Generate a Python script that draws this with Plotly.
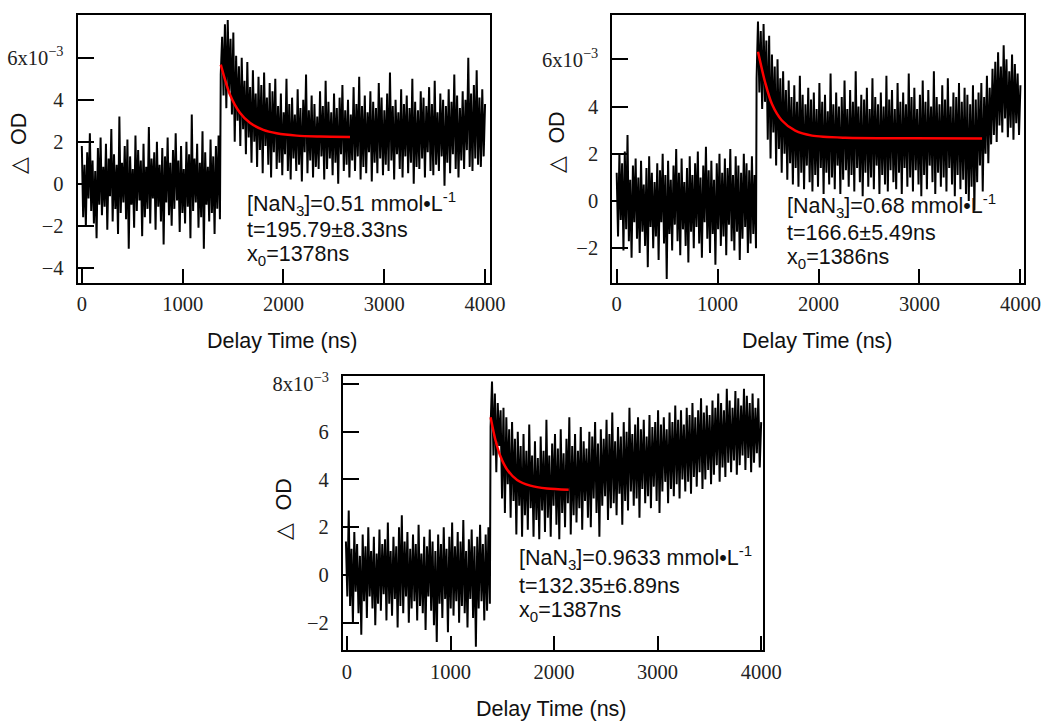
import numpy as np
import plotly.graph_objects as go

# ---------------- data (ΔOD in units of 1e-3) ----------------
# panel 1 : [NaN3] = 0.51 mmol/L
p1_pre_span = (0, 1370)
p1_pre = [1.8, -1.6, 0.9, -2.0, 1.5, -0.7, 2.4, -1.3, 1.1, -1.9,
          0.6, -2.6, 1.7, -1.0, 2.2, -1.5, 0.8, -1.1, 1.9, -2.2,
          1.2, -0.6, 2.6, -1.8, 1.4, -1.2, 0.9, -2.4, 3.2, -1.4,
          1.0, -0.9, 1.8, -1.7, 2.1, -3.1, 1.3, -1.0, 0.7, -2.1,
          2.3, -1.3, 1.6, -0.8, 1.1, -2.5, 1.9, -1.6, 0.8, -1.2,
          2.7, -1.9, 1.2, -0.7, 1.5, -2.2, 2.0, -1.1, 0.9, -1.8,
          1.7, -2.9, 1.3, -0.9, 2.2, -1.5, 1.0, -2.0, 1.6, -1.2,
          2.4, -0.8, 1.1, -2.3, 1.8, -1.4, 0.7, -1.9, 2.0, -1.1,
          1.4, -2.6, 3.3, -1.3, 1.2, -0.9, 1.9, -2.1, 1.0, -1.6,
          2.5, -3.1, 1.5, -1.0, 0.8, -1.8, 2.1, -1.4, 1.3, -2.4,
          1.8, -1.2, 2.3, -1.7]
p1_post_span = (1378, 4000)
p1_post = [5.2, 7.0, 4.2, 7.6, 3.6, 7.8, 4.4, 6.9, 3.3, 7.2, 2.0,
           6.1, 3.0, 5.6, 1.8, 6.0, 2.6, 4.9, 1.4, 5.8, 2.2,
           4.6, 1.0, 5.4, 2.0, 4.3, 0.8, 5.1, 1.6, 4.7, 0.5,
           5.3, 1.8, 4.1, 0.9, 4.8, 0.3, 4.4, 1.5, 5.0, 0.7,
           3.7, 1.0, 4.3, 0.4, 3.4, 1.4, 5.0, 0.6, 3.8, 0.2,
           4.1, 1.2, 3.3, 0.6, 4.5, 0.9, 3.6, 0.1, 4.0, 1.5,
           5.2, 0.5, 3.5, 1.1, 4.2, 0.3, 3.8, 0.8, 3.2, 0.7,
           4.4, 1.3, 3.7, 0.2, 4.9, 0.7, 3.9, 1.2, 3.4, 0.4,
           4.3, 1.0, 3.6, 0.0, 4.1, 1.4, 4.7, 0.6, 3.5, 0.9,
           4.0, 0.3, 3.3, 1.1, 4.6, 0.6, 3.8, 1.3, 5.1, 0.2,
           3.7, 0.8, 4.2, 0.5, 3.4, 1.5, 4.4, 0.1, 3.9, 1.0,
           3.6, 0.5, 4.8, 1.2, 4.1, 0.4, 3.5, 0.9, 4.3, 0.6,
           5.3, 1.1, 3.7, 0.2, 4.0, 1.4, 3.4, 0.7, 4.5, 0.3,
           3.8, 1.3, 4.2, 0.5, 3.6, 1.0, 5.0, 0.0, 3.9, 0.8,
           3.5, 0.7, 4.4, 1.2, 4.1, 0.3, 3.7, 1.5, 4.6, 0.6,
           3.8, 0.4, 4.9, 0.9, 3.4, 0.6, 4.3, 1.3, 4.0, -0.1,
           3.7, 1.0, 4.5, 0.5, 3.9, 1.4, 5.2, 0.7, 4.2, 0.3,
           3.6, 1.1, 4.4, 0.7, 4.0, 1.6, 6.0, 0.8, 4.3, 0.6,
           4.7, 1.2, 5.4, 0.9, 4.1, 0.8, 4.5, 1.3, 3.8]
p1_fit_t = [1378, 1469, 1568, 1667, 1800, 1932, 2131, 2362, 2660]
p1_fit_y = [5.67, 4.25, 3.38, 2.90, 2.56, 2.40, 2.29, 2.25, 2.23]

# panel 2 : [NaN3] = 0.68 mmol/L
p2_pre_span = (0, 1380)
p2_pre = [1.2, -1.5, 2.0, -0.8, 1.6, -2.1, 2.1, -1.2, 2.8, -1.7,
          0.9, -2.4, 1.5, -0.9, 1.8, -1.6, 1.0, -2.2, 1.7, -1.3,
          0.7, -1.9, 1.4, -2.8, 1.9, -1.1, 1.2, -2.0, 0.8, -1.5,
          1.6, -2.5, 1.3, -0.9, 2.0, -1.8, 1.1, -3.3, 1.7, -1.4,
          0.9, -2.1, 1.5, -1.0, 2.2, -1.7, 1.2, -2.3, 1.8, -1.2,
          0.8, -1.9, 1.4, -2.6, 1.9, -1.3, 1.1, -2.0, 1.6, -1.1,
          2.1, -1.8, 1.0, -2.4, 1.5, -0.9, 2.3, -1.6, 1.3, -2.2,
          1.7, -1.4, 0.9, -2.7, 1.6, -1.2, 2.0, -1.9, 1.2, -1.5,
          1.8, -2.3, 1.4, -1.0, 2.2, -1.7, 1.1, -2.1, 1.9, -1.3,
          1.5, -2.5, 1.2, -1.6, 2.0, -1.1, 1.6, -2.2, 1.3, -1.8,
          1.9, -1.4, 1.1, -2.0]
p2_post_span = (1386, 4000)
p2_post = [5.2, 7.6, 4.6, 7.2, 3.9, 7.5, 4.2, 6.8, 2.6, 7.0,
           1.8, 6.2, 2.9, 5.7, 1.5, 6.0, 2.2, 5.2, 1.2, 5.5,
           2.0, 4.7, 0.9, 5.1, 1.6, 4.4, 0.7, 4.9, 1.4, 4.2,
           0.6, 5.3, 1.2, 4.5, 0.5, 4.1, 1.5, 4.8, 0.8, 4.3,
           0.4, 4.6, 1.1, 3.9, 0.6, 5.0, 1.4, 4.2, 0.3, 4.5,
           1.2, 3.8, 0.7, 5.4, 1.0, 4.1, 0.5, 4.6, 1.5, 4.0,
           0.3, 4.4, 0.9, 5.1, 1.3, 3.9, 0.6, 4.7, 1.1, 4.2,
           0.4, 5.5, 1.4, 4.0, 0.8, 4.5, 0.2, 4.3, 1.2, 4.8,
           0.6, 3.9, 1.0, 5.2, 0.5, 4.4, 1.5, 4.1, 0.3, 4.6,
           1.1, 4.0, 0.7, 5.3, 0.4, 4.3, 1.3, 4.7, 0.8, 3.9,
           0.5, 5.0, 1.2, 4.2, 0.3, 4.6, 1.4, 4.1, 0.6, 5.4,
           1.0, 4.4, 0.4, 4.8, 1.3, 3.9, 0.7, 4.5, 0.2, 5.1,
           1.1, 4.2, 0.5, 4.7, 1.5, 4.0, 0.8, 5.5, 0.3, 4.4,
           1.2, 4.1, 0.6, 4.9, 1.0, 4.3, 0.4, 5.2, 1.4, 4.0,
           0.7, 4.6, 0.2, 4.4, 1.1, 5.0, 0.5, 4.2, 0.9, 4.8,
           0.3, 4.5, 0.0, 4.1, 0.6, 4.9, -0.4, 4.3, 0.8, 4.6,
           1.5, 5.0, 0.4, 4.4, 2.0, 5.3, 1.6, 4.8, 2.4, 5.6,
           2.8, 5.9, 2.5, 6.3, 3.2, 5.7, 2.9, 6.6, 3.5, 6.0,
           2.7, 5.5, 3.1, 6.2, 2.6, 5.8, 3.3, 5.4, 2.8, 4.9]
p2_fit_t = [1400, 1471, 1538, 1637, 1769, 1935, 2265, 2927, 3620]
p2_fit_y = [6.32, 5.02, 4.11, 3.41, 2.98, 2.77, 2.68, 2.66, 2.65]

# panel 3 : [NaN3] = 0.9633 mmol/L
p3_pre_span = (-10, 1380)
p3_pre = [1.4, -0.9, 2.7, -1.3, 1.1, -2.0, 1.8, -0.7, 1.3, -1.6,
          0.8, -2.5, 1.7, -1.1, 1.2, -1.8, 2.0, -0.9, 1.0, -1.4,
          1.6, -2.1, 0.9, -1.2, 1.9, -1.5, 1.3, -0.8, 1.5, -1.9,
          2.2, -1.2, 1.0, -1.7, 1.6, -1.0, 1.2, -2.2, 2.0, -1.3,
          2.5, -1.6, 1.4, -0.9, 1.8, -2.0, 1.1, -1.4, 1.7, -1.1,
          1.3, -1.9, 2.1, -1.3, 0.9, -1.6, 1.6, -2.3, 1.2, -0.9,
          1.9, -1.5, 1.4, -2.1, 1.0, -2.8, 1.7, -1.2, 1.3, -1.8,
          2.0, -1.0, 1.1, -2.4, 1.6, -1.4, 2.2, -1.7, 1.2, -1.1,
          1.8, -2.0, 1.4, -1.3, 2.3, -1.6, 1.0, -2.2, 1.5, -1.0,
          1.9, -1.8, 1.2, -3.0, 1.6, -1.4, 2.1, -1.1, 1.3, -1.9,
          1.7, -1.5, 2.0, -1.2]
p3_post_span = (1387, 4000)
p3_post = [6.2, 8.1, 5.0, 7.6, 4.3, 7.2, 5.4, 6.9, 3.2, 7.0,
           2.6, 6.6, 3.8, 6.1, 2.4, 6.4, 3.1, 5.7, 1.7, 6.0,
           2.9, 5.4, 1.6, 5.9, 2.5, 5.2, 1.9, 6.3, 2.8, 5.0,
           1.6, 5.6, 2.3, 4.9, 1.5, 5.8, 2.7, 5.2, 1.8, 6.5,
           2.4, 5.0, 1.6, 5.5, 2.9, 5.9, 2.1, 5.3, 1.5, 6.1,
           2.6, 5.1, 2.0, 5.7, 3.0, 6.6, 1.7, 5.4, 2.5, 5.9,
           2.2, 5.2, 2.8, 6.2, 1.9, 5.6, 3.1, 5.3, 2.4, 6.0,
           2.0, 5.8, 3.2, 6.4, 2.6, 5.5, 1.6, 6.1, 2.9, 5.7,
           3.3, 6.5, 2.3, 5.9, 2.8, 6.8, 3.0, 5.6, 2.5, 6.2,
           3.4, 5.8, 2.1, 6.4, 3.1, 6.0, 2.7, 7.0, 3.5, 5.9,
           2.9, 6.3, 3.2, 6.6, 2.4, 6.1, 3.6, 6.5, 3.0, 5.8,
           3.3, 6.7, 2.8, 6.2, 3.7, 6.4, 3.1, 6.9, 2.6, 6.3,
           3.5, 6.6, 3.9, 6.1, 3.0, 6.8, 3.6, 6.4, 3.3, 7.1,
           3.8, 6.5, 3.2, 6.9, 4.0, 6.3, 3.5, 7.0, 3.9, 6.7,
           3.4, 7.2, 4.1, 6.6, 3.7, 6.9, 4.3, 7.4, 3.6, 6.8,
           4.0, 7.1, 4.4, 6.7, 3.8, 7.3, 4.2, 7.0, 4.6, 7.6,
           3.9, 7.2, 4.5, 6.9, 4.1, 7.8, 4.7, 7.3, 4.3, 7.0,
           4.8, 7.7, 4.2, 7.4, 4.6, 7.1, 5.0, 7.8, 4.4, 7.5,
           4.9, 7.2, 4.3, 7.6, 4.7, 7.0, 5.1, 7.4, 4.5, 6.4]
p3_fit_t = [1387, 1433, 1481, 1546, 1643, 1771, 1932, 2141]
p3_fit_y = [6.60, 5.66, 4.98, 4.42, 3.98, 3.74, 3.62, 3.57]

x_ticks = [0, 1000, 2000, 3000, 4000]
x_ticktext = ["0", "1000", "2000", "3000", "4000"]

labels = [
    ["[NaN<sub>3</sub>]=0.51 mmol•L<sup>-1</sup>", "t=195.79±8.33ns", "x<sub>0</sub>=1378ns"],
    ["[NaN<sub>3</sub>]=0.68 mmol•L<sup>-1</sup>", "t=166.6±5.49ns", "x<sub>0</sub>=1386ns"],
    ["[NaN<sub>3</sub>]=0.9633 mmol•L<sup>-1</sup>", "t=132.35±6.89ns", "x<sub>0</sub>=1387ns"],
]

# ---------------- layout geometry ----------------
# target positions are pixels of the reference picture; the photographed page is
# slightly rescaled, so targets are mapped back to page pixels first
SX, BX = 0.981, 1.5
SY, BY = 0.995, 6.0
W, H = 1068, 728


def px(x):
    return ((x - BX) / SX) / W


def py(y):
    return 1 - ((y - BY) / SY) / H


panels = [
    dict(pre=p1_pre, pre_span=p1_pre_span, post=p1_post, post_span=p1_post_span,
         fit_t=p1_fit_t, fit_y=p1_fit_y,
         box=(78, 490, 14, 283), xr=[-42, 4050], yr=[-4.72, 8.04],
         yticks=[-4, -2, 0, 2, 4, 6], yticktext=["−4", "−2", "0", "2", "4", "6x10<sup>−3</sup>"],
         lab_x=1618, lab_y=[-0.95, -2.22, -3.41],
         xtitle=(283, 342), ytitle=(20, 143)),
    dict(pre=p2_pre, pre_span=p2_pre_span, post=p2_post, post_span=p2_post_span,
         fit_t=p2_fit_t, fit_y=p2_fit_y,
         box=(612, 1023, 14, 283), xr=[-44, 4033], yr=[-3.46, 7.88],
         yticks=[-2, 0, 2, 4, 6], yticktext=["−2", "0", "2", "4", "6x10<sup>−3</sup>"],
         lab_x=1670, lab_y=[-0.18, -1.36, -2.42],
         xtitle=(817, 342), ytitle=(557, 142)),
    dict(pre=p3_pre, pre_span=p3_pre_span, post=p3_post, post_span=p3_post_span,
         fit_t=p3_fit_t, fit_y=p3_fit_y,
         box=(343, 763, 377, 652), xr=[-39, 4022], yr=[-3.14, 8.32],
         yticks=[-2, 0, 2, 4, 6, 8], yticktext=["−2", "0", "2", "4", "6", "8x10<sup>−3</sup>"],
         lab_x=1643, lab_y=[0.73, -0.48, -1.52],
         xtitle=(551, 711), ytitle=(284, 510)),
]

SERIF = "Liberation Serif"
SANS = "Liberation Sans, Arial, sans-serif"

fig = go.Figure()
layout = dict(width=W, height=H, autosize=False, margin=dict(l=0, r=0, t=0, b=0, pad=0),
              paper_bgcolor="white", plot_bgcolor="white", showlegend=False)
annotations = []

for i, p in enumerate(panels, start=1):
    sfx = "" if i == 1 else str(i)
    xa, ya = "x" + sfx, "y" + sfx
    t_pre = np.linspace(p["pre_span"][0], p["pre_span"][1], len(p["pre"]))
    t_post = np.linspace(p["post_span"][0], p["post_span"][1], len(p["post"]))
    t_all = np.concatenate([t_pre, t_post])
    y_all = list(p["pre"]) + list(p["post"])
    fig.add_trace(go.Scatter(x=t_all, y=y_all, mode="lines", xaxis=xa, yaxis=ya,
                             line=dict(color="black", width=2.0), hoverinfo="skip"))
    fig.add_trace(go.Scatter(x=p["fit_t"], y=p["fit_y"], mode="lines", xaxis=xa, yaxis=ya,
                             line=dict(color="#ff0000", width=2.5, shape="spline", smoothing=0.8),
                             hoverinfo="skip"))
    l, r, t, b = p["box"]
    common = dict(showline=True, linecolor="black", linewidth=2, mirror=True,
                  ticks="inside", tickcolor="black", tickwidth=2,
                  showgrid=False, zeroline=False,
                  tickfont=dict(family=SERIF, size=20.5, color="#222"))
    layout["xaxis" + sfx] = dict(common, domain=[px(l), px(r)], anchor=ya, range=p["xr"],
                                 tickmode="array", tickvals=x_ticks, ticktext=x_ticktext,
                                 ticklen=14, ticklabelstandoff=2)
    layout["yaxis" + sfx] = dict(common, domain=[py(b), py(t)], anchor=xa, range=p["yr"],
                                 tickmode="array", tickvals=p["yticks"], ticktext=p["yticktext"],
                                 ticklen=16, ticklabelstandoff=8)
    # axis titles
    annotations.append(dict(text="Delay Time (ns)", xref="paper", yref="paper",
                            x=px(p["xtitle"][0]), y=py(p["xtitle"][1]),
                            xanchor="center", yanchor="middle", showarrow=False,
                            font=dict(family=SANS, size=21.5, color="#111")))
    annotations.append(dict(text="△  OD", xref="paper", yref="paper",
                            x=px(p["ytitle"][0]), y=py(p["ytitle"][1]), textangle=-90,
                            xanchor="center", yanchor="middle", showarrow=False,
                            font=dict(family=SANS, size=21.5, color="#111")))
    for txt, yy in zip(labels[i - 1], p["lab_y"]):
        annotations.append(dict(text=txt, xref=xa, yref=ya, x=p["lab_x"], y=yy,
                                xanchor="left", yanchor="middle", showarrow=False,
                                font=dict(family=SANS, size=21.5, color="#111")))

layout["annotations"] = annotations
fig.update_layout(**layout)
fig.write_html(
    "out.html",
    config={"responsive": False, "displayModeBar": False},
    post_script=("document.body.style.margin='0';"
                 "document.body.style.overflow='hidden';"
                 "document.documentElement.style.overflow='hidden';"),
)
